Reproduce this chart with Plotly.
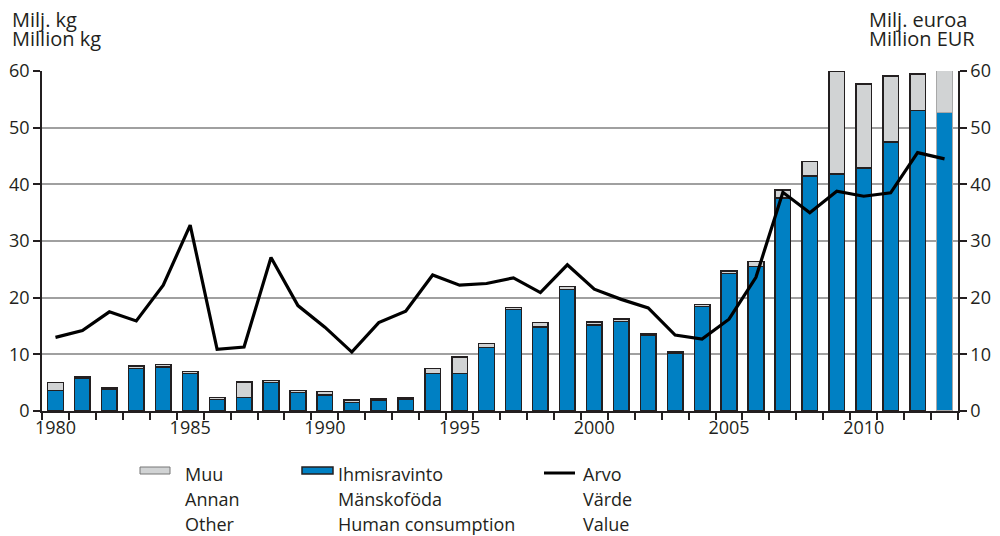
import plotly.graph_objects as go

years = list(range(1980, 2014))
human = [3.6, 5.7, 3.8, 7.5, 7.8, 6.6, 2.0, 2.4, 5.0, 3.3, 2.8, 1.5, 1.9, 2.0,
         6.6, 6.6, 11.2, 17.9, 14.8, 21.4, 15.2, 15.8, 13.3, 10.2, 18.4, 24.3,
         25.5, 37.6, 41.5, 41.8, 42.9, 47.5, 53.0, 52.7]
other = [1.4, 0.3, 0.3, 0.4, 0.4, 0.4, 0.4, 2.7, 0.4, 0.3, 0.6, 0.4, 0.3, 0.3,
         0.9, 2.9, 0.7, 0.4, 0.8, 0.6, 0.5, 0.4, 0.3, 0.3, 0.4, 0.4,
         0.9, 1.4, 2.5, 18.1, 14.8, 11.6, 6.5, 7.6]
value = [13.0, 14.2, 17.5, 15.9, 22.2, 32.8, 10.9, 11.3, 27.1, 18.6, 14.8, 10.4,
         15.6, 17.6, 24.0, 22.2, 22.5, 23.5, 20.9, 25.8, 21.5, 19.7, 18.2, 13.4,
         12.7, 16.2, 23.6, 38.6, 35.0, 38.8, 37.9, 38.5, 45.6, 44.5]
y_ticks = [0, 10, 20, 30, 40, 50, 60]
x_labels = [1980, 1985, 1990, 1995, 2000, 2005, 2010]

BLUE = "#0080c3"
GRAY = "#d1d3d4"
TXT = "#231f20"
FONT = "Open Sans"

edge = ["#231f20"] * (len(years) - 1) + ["#a8a8a8"]

fig = go.Figure()
fig.add_trace(go.Bar(x=years, y=human, name="Ihmisravinto", marker=dict(color=BLUE, line=dict(color=edge, width=1.5)),
                     width=0.58, showlegend=False))
fig.add_trace(go.Bar(x=years, y=other, name="Muu", marker=dict(color=GRAY, line=dict(color=edge, width=1.5)),
                     width=0.58, showlegend=False))
fig.add_trace(go.Scatter(x=years, y=value, name="Arvo", mode="lines", line=dict(color="black", width=3.2),
                         yaxis="y2", showlegend=False))

# page offset (body margin) of 8px
OFF = 8
W, H = 1000 - OFF, 536 - OFF
L, T = 42 - OFF, 71 - OFF
R = W - (958 - OFF)
B = H - (411 - OFF)
pw, ph = W - L - R, H - T - B

def px(x):
    return (x - OFF - L) / pw

def py(y):
    return (H - B - (y - OFF)) / ph

axis_common = dict(range=[0, 60], tickvals=y_ticks, ticks="outside", ticklen=7, tickwidth=1.5,
                   tickcolor=TXT, showline=True, linecolor=TXT, linewidth=1.5, automargin=False,
                   tickfont=dict(family=FONT, size=18, color=TXT), zeroline=False)

fig.update_layout(
    width=W, height=H, barmode="stack",
    margin=dict(l=L, r=R, t=T, b=B, autoexpand=False),
    plot_bgcolor="white", paper_bgcolor="white",
    font=dict(family=FONT, size=18, color=TXT),
    xaxis=dict(range=[1979.5, 2013.5], tickvals=x_labels, ticks="", showline=True, linecolor=TXT,
               linewidth=1.5, showgrid=False, zeroline=False, automargin=False,
               tickfont=dict(family=FONT, size=18, color=TXT),
               minor=dict(tick0=1979.5, dtick=1, ticks="outside", ticklen=7, tickwidth=1.5, tickcolor=TXT,
                          showgrid=False)),
    yaxis=dict(**axis_common, showgrid=True, gridcolor="#a0a0a0", gridwidth=1.5, ticklabelstandoff=0),
    yaxis2=dict(**axis_common, overlaying="y", side="right", showgrid=False),
)

annos = []
def text(x, y, s, size=18):
    annos.append(dict(x=px(x), y=py(y), xref="paper", yref="paper", text=s, showarrow=False,
                      xanchor="left", yanchor="middle", xshift=-2,
                      font=dict(family=FONT, size=size, color=TXT)))

text(12, 19, "Milj. kg", 20)
text(12, 39, "Million kg", 20)
text(869, 19, "Milj. euroa", 20)
text(869, 39, "Million EUR", 20)

for i, s in enumerate(["Muu", "Annan", "Other"]):
    text(185, 474 + 25 * i, s)
for i, s in enumerate(["Ihmisravinto", "Mänskoföda", "Human consumption"]):
    text(338, 474 + 25 * i, s)
for i, s in enumerate(["Arvo", "Värde", "Value"]):
    text(583, 474 + 25 * i, s)
fig.update_layout(annotations=annos)

shapes = [
    dict(type="rect", xref="paper", yref="paper", x0=px(140), x1=px(170), y0=py(467), y1=py(474),
         fillcolor=GRAY, line=dict(color="#777", width=1)),
    dict(type="rect", xref="paper", yref="paper", x0=px(302), x1=px(333), y0=py(467), y1=py(474),
         fillcolor=BLUE, line=dict(color=TXT, width=1.5)),
    dict(type="line", xref="paper", yref="paper", x0=px(544), x1=px(575), y0=py(473), y1=py(473),
         line=dict(color="black", width=3)),
]
fig.update_layout(shapes=shapes)

fig.write_html("out.html")
